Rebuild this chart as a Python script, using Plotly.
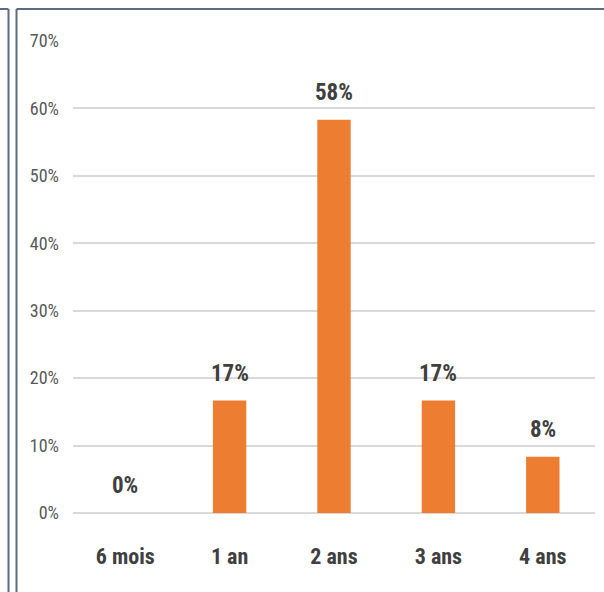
import plotly.graph_objects as go

categories = ["6 mois", "1 an", "2 ans", "3 ans", "4 ans"]
values = [0.0, 2/12, 7/12, 2/12, 1/12]
labels = ["0%", "17%", "58%", "17%", "8%"]
tick_vals = [0, 0.1, 0.2, 0.3, 0.4, 0.5, 0.6, 0.7]
tick_text = ["0%", "10%", "20%", "30%", "40%", "50%", "60%", "70%"]

W, H = 604, 592
L, R, T, B = 73, 9, 41, 79
pw, ph = W - L - R, H - T - B

def px(x):
    return (x - L) / pw

def py(y):
    return (H - B - y) / ph

FONT = "Liberation Sans Narrow, Roboto Condensed, Arial Narrow, sans-serif"

fig = go.Figure(go.Bar(
    x=categories, y=values, marker=dict(color="#ED7D31", line=dict(width=0)),
    width=0.32, hoverinfo="skip"))

for c, v, t in zip(categories, values, labels):
    fig.add_annotation(x=c, y=v, text="<b>%s</b>" % t, showarrow=False,
                       yanchor="bottom", yshift=12,
                       font=dict(family=FONT, size=23, color="#404040"))

border = "#5b6b82"
shapes = [
    dict(type="line", xref="paper", yref="paper", x0=px(8.5), x1=px(8.5), y0=py(9), y1=py(600), line=dict(color=border, width=2)),
    dict(type="line", xref="paper", yref="paper", x0=px(-2), x1=px(8.5), y0=py(9), y1=py(9), line=dict(color=border, width=2)),
    dict(type="line", xref="paper", yref="paper", x0=px(16.5), x1=px(16.5), y0=py(9), y1=py(600), line=dict(color=border, width=2)),
    dict(type="line", xref="paper", yref="paper", x0=px(16.5), x1=px(610), y0=py(9), y1=py(9), line=dict(color=border, width=2)),
]

fig.update_layout(
    width=W, height=H, margin=dict(l=L, r=R, t=T, b=B),
    paper_bgcolor="white", plot_bgcolor="white", showlegend=False,
    shapes=shapes,
    xaxis=dict(showgrid=False, showline=False, ticks="", ticklabelstandoff=28,
               tickfont=dict(family=FONT, size=22, color="#404040"),
               tickprefix="<b>", ticksuffix="</b>"),
    yaxis=dict(range=[0, 0.7], tickvals=tick_vals, ticktext=tick_text,
               showgrid=True, gridcolor="#d9d9d9", gridwidth=2,
               zeroline=True, zerolinecolor="#d9d9d9", zerolinewidth=2,
               showline=False, ticks="", ticklabelstandoff=13,
               tickfont=dict(family=FONT, size=18, color="#595959")),
)

fig.write_html("out.html")
